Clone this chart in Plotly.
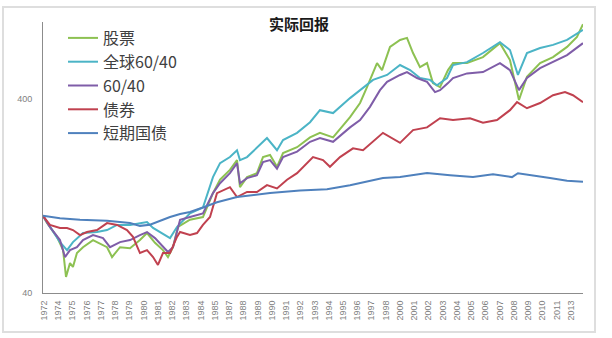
import plotly.graph_objects as go

# ---- data (log scale values) ----
stocks_x = [1972.00, 1972.31, 1973.09, 1973.56, 1973.79, 1974.10, 1974.33, 1974.64, 1975.11, 1975.89,
            1976.98, 1977.37, 1977.99, 1978.77, 1979.54, 1980.09, 1980.71, 1981.33, 1981.72, 1982.11,
            1982.50, 1983.43, 1984.44, 1985.22, 1985.77, 1986.54, 1987.09, 1987.32, 1987.87, 1988.64,
            1989.11, 1989.66, 1990.20, 1990.67, 1991.76, 1992.77, 1993.54, 1994.56, 1995.88, 1996.66,
            1997.20, 1997.98, 1998.37, 1998.99, 1999.77, 2000.31, 2000.78, 2001.32, 2001.87, 2002.33,
            2002.88, 2003.50, 2003.89, 2004.98, 2006.22, 2007.54, 2008.32, 2009.02, 2009.64, 2010.66,
            2011.67, 2012.76, 2013.53, 2014.00]
stocks_y = [100, 91.8, 77.9, 66.6, 48.4, 57.1, 54.5, 64.3, 68.9, 75,
            68.9, 61.3, 68.9, 68.1, 75, 81.5, 72.6, 66.6, 61.3, 68.9,
            87.6, 95.5, 98.6, 131, 153.6, 172.5, 194, 140.6, 158.5, 166,
            201, 206, 179, 211, 226, 254, 268, 254, 323, 382,
            461, 614, 565, 744, 808, 828, 692, 585, 614, 484,
            461, 565, 614, 614, 659, 778, 636, 396, 522, 614,
            659, 744, 838, 975]

global_x = [1972.00, 1972.54, 1973.32, 1973.87, 1974.33, 1975.11, 1976.20, 1976.98, 1977.76, 1978.77,
            1979.54, 1980.09, 1980.56, 1981.10, 1981.88, 1982.42, 1983.43, 1984.44, 1985.22, 1985.77,
            1986.54, 1987.09, 1987.32, 1987.87, 1988.64, 1989.42, 1990.20, 1990.67, 1991.76, 1992.77,
            1993.54, 1994.56, 1995.88, 1996.66, 1997.67, 1998.76, 1999.77, 2000.55, 2001.32, 2002.10,
            2002.64, 2003.42, 2003.89, 2004.98, 2006.22, 2007.54, 2008.32, 2008.94, 2009.64, 2010.66,
            2011.67, 2012.76, 2014.00]
global_y = [100, 87.6, 73.2, 66.6, 73.2, 81.5, 82.5, 84.5, 89.8, 89.8,
            91.8, 93, 86.6, 82.5, 76.8, 87.6, 103, 110.5, 158.5, 187,
            201, 218, 194, 201, 226, 252, 218, 246, 268, 304,
            351, 339, 405, 445, 503, 533, 600, 565, 514, 503,
            472, 514, 600, 621, 692, 787, 717, 533, 692, 734,
            762, 808, 910]

mix_x = [1972.00, 1972.54, 1973.32, 1973.71, 1974.10, 1974.64, 1975.11, 1975.89, 1976.67, 1977.21,
         1977.99, 1978.77, 1979.54, 1980.09, 1980.71, 1981.33, 1981.72, 1982.11, 1982.66, 1983.43,
         1984.44, 1985.22, 1985.77, 1986.54, 1987.09, 1987.32, 1987.87, 1988.64, 1989.11, 1989.66,
         1990.20, 1990.67, 1991.76, 1992.77, 1993.54, 1994.56, 1995.88, 1996.66, 1997.43, 1998.21,
         1998.76, 1999.77, 2000.31, 2001.09, 2001.87, 2002.49, 2002.88, 2003.50, 2003.89, 2004.98,
         2006.22, 2007.54, 2008.32, 2009.02, 2009.64, 2010.66, 2011.67, 2012.76, 2014.00]
mix_y = [100, 87.6, 75, 61.3, 66.6, 68.9, 75, 79.6, 76.8, 68.9,
         73.2, 75, 79.6, 82.5, 76.8, 68.9, 65.1, 68.9, 95.5, 98.6,
         103, 131, 147.4, 166, 187, 147.4, 156.6, 162, 189.5, 194,
         175, 201, 214.6, 241, 252, 241, 286, 312, 365, 445,
         491, 533, 552, 514, 491, 435, 445, 484, 514, 543,
         552, 614, 565, 445, 514, 578, 621, 675, 778]

bond_x = [1972.00, 1972.54, 1973.32, 1973.87, 1974.33, 1974.88, 1975.42, 1976.20, 1976.98, 1977.76,
          1978.53, 1979.00, 1979.54, 1980.09, 1980.56, 1980.94, 1981.33, 1981.88, 1982.42, 1982.66,
          1983.43, 1983.98, 1984.44, 1984.99, 1985.53, 1986.00, 1986.54, 1987.09, 1987.87, 1988.64,
          1989.42, 1990.20, 1990.98, 1991.76, 1992.77, 1993.00, 1993.78, 1994.32, 1995.10, 1996.11,
          1996.89, 1998.44, 1999.77, 2000.78, 2001.87, 2002.88, 2003.89, 2005.21, 2006.22, 2007.31,
          2008.32, 2008.87, 2009.64, 2010.66, 2011.67, 2012.60, 2013.22, 2014.00]
bond_y = [100, 89.8, 86.6, 86.6, 84.5, 79.6, 82.5, 84.5, 91.8, 89.8,
          84.5, 77.9, 64.3, 66.6, 61.3, 55.8, 64.3, 64.3, 77.9, 82.5,
          79.6, 81.5, 89.8, 98.6, 131, 135, 140.6, 125, 132.8, 132.8,
          144, 138.5, 153.6, 166, 194, 201, 194, 179, 201, 223,
          218, 268, 238, 277, 286, 318.6, 312, 318.6, 302, 312,
          351, 386, 359, 382, 419, 435, 419, 386]

bill_x = [1972.00, 1973.32, 1974.88, 1976.98, 1978.77, 1979.54, 1980.32, 1981.10, 1981.88, 1982.66,
          1983.43, 1984.44, 1985.53, 1987.09, 1989.66, 1991.99, 1994.09, 1995.88, 1998.44, 1999.77,
          2001.87, 2003.66, 2005.44, 2007.00, 2008.48, 2008.94, 2010.66, 2011.43, 2012.76, 2014.00]
bill_y = [100, 97.2, 95.5, 94.3, 91.8, 88.8, 90, 94.3, 98.6, 102.3,
          104.8, 110.5, 117.5, 125, 131.3, 135, 137, 144, 156.6, 158.5,
          166.3, 162, 158.5, 164, 158.5, 166, 160.4, 156.6, 151.9, 150]

series_names = ["股票", "全球60/40", "60/40", "债券", "短期国债"]
series_colors = ["#8DC152", "#4BB4C6", "#7F5DA8", "#C0414F", "#4F81BD"]

tick_labels = ["1972", "1974", "1975", "1976", "1977", "1978", "1979", "1980", "1981", "1982",
               "1983", "1984", "1985", "1987", "1988", "1989", "1990", "1991", "1992", "1993",
               "1994", "1995", "1996", "1997", "1998", "2000", "2001", "2002", "2003", "2004",
               "2005", "2006", "2007", "2008", "2009", "2010", "2011", "2013"]
y_ticks = [40, 400]

tick_start = 1972.08
tick_step = 1.1076
tick_vals = [tick_start + i * tick_step for i in range(len(tick_labels))]

xs = [stocks_x, global_x, mix_x, bond_x, bill_x]
ys = [stocks_y, global_y, mix_y, bond_y, bill_y]

fig = go.Figure()
for name, color, x, y in zip(series_names, series_colors, xs, ys):
    fig.add_trace(go.Scatter(x=x, y=y, mode="lines", name=name,
                             line=dict(color=color, width=2)))

fig.update_layout(
    width=612, height=338,
    margin=dict(l=43, r=29, t=22, b=45),
    paper_bgcolor="white", plot_bgcolor="white",
    font=dict(family="Noto Sans CJK SC", color="#404040"),
    title=dict(text="<b>实际回报</b>", x=299/612, xanchor="center",
               y=1 - 25/338, yanchor="middle",
               font=dict(size=15, color="#1a1a1a", family="Noto Sans CJK SC")),
    showlegend=True,
    legend=dict(x=(63-43)/540, y=(293-21)/271, xanchor="left", yanchor="top",
                bgcolor="rgba(0,0,0,0)", font=dict(size=16, color="#404040",
                family="Noto Sans CJK SC"), tracegroupgap=0),
    xaxis=dict(range=[1972, 2014], showgrid=False, zeroline=False,
               showline=True, linecolor="#8c8c8c", linewidth=1,
               tickmode="array", tickvals=tick_vals, ticktext=tick_labels,
               tickangle=-90, ticks="", ticklabelstandoff=3,
               tickfont=dict(size=9, color="#7f7f7f", family="Liberation Sans")),
    yaxis=dict(type="log", range=[1.60206, 3.0], showgrid=False, zeroline=False,
               showline=True, linecolor="#8c8c8c", linewidth=1,
               tickmode="array", tickvals=y_ticks, ticktext=[str(v) for v in y_ticks],
               ticks="", ticklabelstandoff=8,
               tickfont=dict(size=9, color="#7f7f7f", family="Liberation Sans")),
    shapes=[dict(type="rect", xref="paper", yref="paper",
                 x0=(3-43)/540, x1=(595-43)/540, y0=(293-332)/271, y1=(293-7)/271,
                 line=dict(color="#dedede", width=2), layer="below")],
)

fig.write_html("out.html")
